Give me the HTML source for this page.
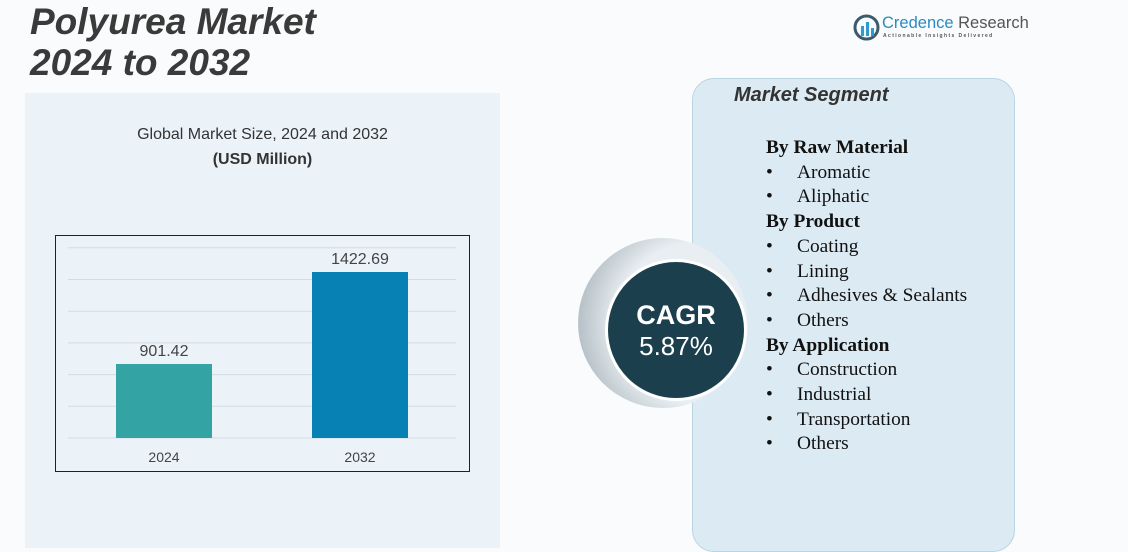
<!DOCTYPE html>
<html><head><meta charset="utf-8"><style>
body{margin:0;width:1128px;height:552px;background:#f9fbfc;position:relative;overflow:hidden;font-family:"Liberation Sans",sans-serif}
.abs{position:absolute}
</style></head><body>
<div class="abs" style="left:25px;top:93px;width:475px;height:455px;background:#ebf3f9"></div>
<div class="abs" style="left:30px;top:1px;font-size:37px;font-weight:bold;font-style:italic;color:#3a3a3a;line-height:41px">Polyurea Market<br>2024 to 2032</div>
<div class="abs" style="left:853px;top:14px;width:180px;height:30px">
<svg width="27" height="27" style="position:absolute;left:0;top:0"><circle cx="13.5" cy="13.5" r="11.5" fill="none" stroke="#3c5a6e" stroke-width="3"/><rect x="8" y="12" width="3" height="10" fill="#2b9bd0"/><rect x="13" y="8" width="3" height="14" fill="#2b9bd0"/><rect x="18" y="14" width="3" height="8" fill="#2b9bd0"/></svg>
<div class="abs" style="left:29px;top:0;font-size:16.5px;color:#2d8ac0;white-space:nowrap">Credence <span style="color:#555">Research</span></div>
<div class="abs" style="left:30px;top:19px;font-size:5px;letter-spacing:1.4px;color:#555;white-space:nowrap;font-weight:bold">Actionable Insights Delivered</div></div>
<div class="abs" style="left:55px;top:122px;width:415px;text-align:center;font-size:16px;color:#333;line-height:25px">Global Market Size, 2024 and 2032<br><b>(USD Million)</b></div>
<svg class="abs" style="left:0;top:0" width="1128" height="552">
<rect x="55.5" y="235.5" width="414" height="236" fill="none" stroke="#222" stroke-width="1"/>
<g id="grid"></g><g id="bars"></g>
</svg>
<div class="abs" style="left:692px;top:78px;width:321px;height:472px;background:#dceaf3;border:1.5px solid #b9d4e3;border-radius:22px"></div>
<div class="abs" style="left:734px;top:84px;font-size:20px;font-weight:bold;font-style:italic;color:#333">Market Segment</div>
<div class="abs" style="left:766px;top:136px;font-family:'Liberation Serif',serif;font-size:19.4px;color:#111;line-height:24.7px">
<b>By Raw Material</b><br><span>•&nbsp;&nbsp;&nbsp;&nbsp;&nbsp;Aromatic</span><br><span>•&nbsp;&nbsp;&nbsp;&nbsp;&nbsp;Aliphatic</span><br><b>By Product</b><br>•&nbsp;&nbsp;&nbsp;&nbsp;&nbsp;Coating<br>•&nbsp;&nbsp;&nbsp;&nbsp;&nbsp;Lining<br>•&nbsp;&nbsp;&nbsp;&nbsp;&nbsp;Adhesives &amp; Sealants<br>•&nbsp;&nbsp;&nbsp;&nbsp;&nbsp;Others<br><b>By Application</b><br>•&nbsp;&nbsp;&nbsp;&nbsp;&nbsp;Construction<br>•&nbsp;&nbsp;&nbsp;&nbsp;&nbsp;Industrial<br>•&nbsp;&nbsp;&nbsp;&nbsp;&nbsp;Transportation<br>•&nbsp;&nbsp;&nbsp;&nbsp;&nbsp;Others</div>
<div class="abs" style="left:578px;top:238px;width:170px;height:170px;border-radius:50%;background:radial-gradient(circle at 70% 50%,#e8eef2 55%,#b8c2c8 80%,#e6ecef 100%)"></div>
<div class="abs" style="left:605px;top:259px;width:142px;height:142px;border-radius:50%;background:#1c3f4d;border:3px solid #fff;box-sizing:border-box;color:#fff;text-align:center">
<div style="margin-top:38px;font-size:27px;font-weight:bold">CAGR</div><div style="font-size:26px">5.87%</div></div>
<script>
const categories=["2024","2032"];
const values=[901.42,1422.69];
const labels=["901.42","1422.69"];
const ns="http://www.w3.org/2000/svg";
const base=438,vmin=482,scale=166/(1422.69-482);
const y=v=>base-(v-vmin)*scale;
const xc=i=>164+i*196;
const colors=["#33a3a3","#0781b3"];
const g=document.getElementById('grid');
for(let k=0;k<7;k++){const l=document.createElementNS(ns,'line');


const yy=base-k*31.7;l.setAttribute('x1',68);l.setAttribute('x2',456);l.setAttribute('y1',yy);l.setAttribute('y2',yy);l.setAttribute('stroke','#d3dce2');g.appendChild(l);}
const b=document.getElementById('bars');
values.forEach((v,i)=>{
const r=document.createElementNS(ns,'rect');


r.setAttribute('x',xc(i)-48);r.setAttribute('width',96);r.setAttribute('y',y(v));r.setAttribute('height',base-y(v));r.setAttribute('fill',colors[i]);b.appendChild(r);
const t=document.createElementNS(ns,'text');


t.setAttribute('x',xc(i));t.setAttribute('y',y(v)-8);t.setAttribute('text-anchor','middle');t.setAttribute('font-size','16');t.setAttribute('fill','#444');t.textContent=labels[i];b.appendChild(t);
const c=document.createElementNS(ns,'text');


c.setAttribute('x',xc(i));c.setAttribute('y',462);c.setAttribute('text-anchor','middle');c.setAttribute('font-size','14');c.setAttribute('fill','#444');c.textContent=categories[i];b.appendChild(c);
});
</script>
</body></html>
